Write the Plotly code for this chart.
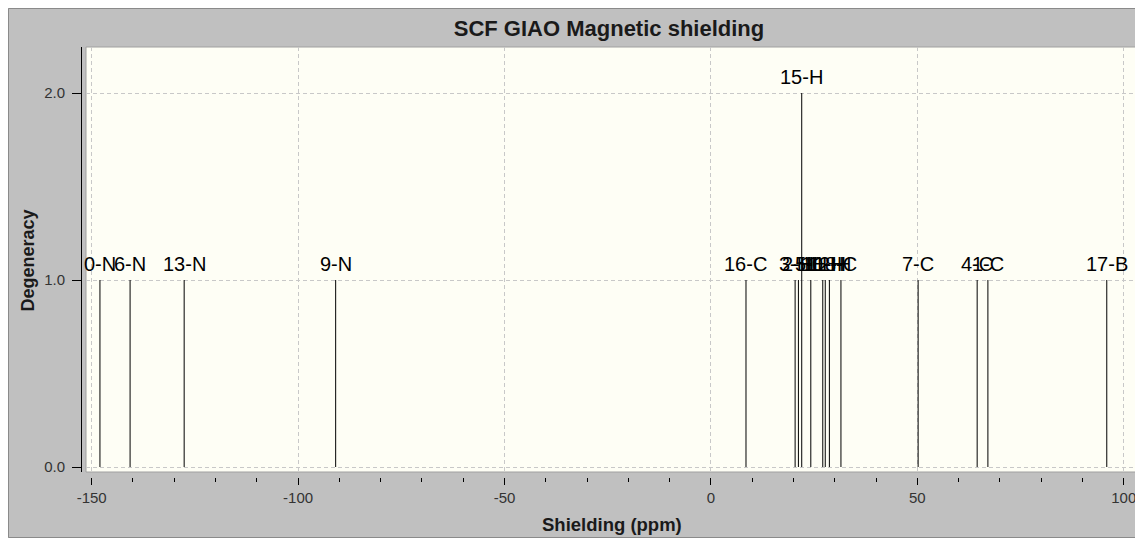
import plotly.graph_objects as go

# ---- data ----
labels = ["0-N", "6-N", "13-N", "9-N", "16-C", "3-H", "2-H", "15-H", "5-H",
          "10-H", "11-H", "12-H", "8-C", "7-C", "4-C", "1-C", "17-B"]
shielding = [-148.0, -140.7, -127.6, -90.9, 8.5, 20.4, 21.2, 22.0, 24.2,
             27.1, 27.7, 28.7, 31.5, 50.2, 64.5, 67.1, 95.9]
degeneracy = [1, 1, 1, 1, 1, 1, 1, 2, 1, 1, 1, 1, 1, 1, 1, 1, 1]

x_tick_vals = [-150, -100, -50, 0, 50, 100]
x_tick_text = ["-150", "-100", "-50", "0", "50", "100"]
y_tick_vals = [0, 1, 2]
y_tick_text = ["0.0", "1.0", "2.0"]

# ---- geometry (pixels, figure coordinates; page adds 8px body margin) ----
W, H = 1134, 530
L, R, T, B = 73, 5, 39, 61
pw = W - L - R
ph = H - T - B
plot_left_px = 78
plot_bottom_px = 464
xdom0 = (plot_left_px - L) / pw
ydom0 = (H - B - plot_bottom_px) / ph


def px_x(p):
    return (p - L) / pw


def px_y(p):
    return (H - B - p) / ph


FONT = "Liberation Sans, Arial, Helvetica, sans-serif"

xs, ys = [], []
for v, d in zip(shielding, degeneracy):
    xs += [v, v, None]
    ys += [0, d, None]

fig = go.Figure()
fig.add_trace(go.Scatter(x=xs, y=ys, mode="lines",
                         line=dict(color="black", width=1),
                         hoverinfo="skip", showlegend=False))

annotations = []
for lab, v, d in zip(labels, shielding, degeneracy):
    annotations.append(dict(x=v, y=d, xref="x", yref="y", text=lab,
                            showarrow=False, yanchor="middle", yshift=16,
                            font=dict(family=FONT, size=20, color="black")))

annotations.append(dict(x=(xdom0 + 1) / 2, y=px_y(516), xref="paper", yref="paper",
                        text="Shielding (ppm)", showarrow=False, yanchor="middle",
                        font=dict(family=FONT, size=18.5, color="#1a1a1a", weight="bold")))
annotations.append(dict(x=px_x(19.5), y=px_y(253), xref="paper", yref="paper",
                        text="Degeneracy", showarrow=False, textangle=-90,
                        xanchor="center", yanchor="middle",
                        font=dict(family=FONT, size=18, color="#1a1a1a", weight="bold")))

shapes = [
    dict(type="rect", xref="paper", yref="paper", layer="below",
         x0=xdom0, x1=1, y0=ydom0, y1=1,
         fillcolor="#fefef5", line=dict(color="#a0a0a0", width=1)),
    dict(type="rect", xref="paper", yref="paper", layer="above",
         x0=px_x(0.5), x1=px_x(W - 0.5), y0=px_y(H - 0.5), y1=px_y(0.5),
         fillcolor="rgba(0,0,0,0)", line=dict(color="#8a8a8a", width=1)),
]

fig.update_layout(
    width=W, height=H,
    margin=dict(l=L, r=R, t=T, b=B, pad=0),
    paper_bgcolor="#c0c0c0",
    plot_bgcolor="rgba(0,0,0,0)",
    showlegend=False,
    title=dict(text="SCF GIAO Magnetic shielding", x=0.5, xref="paper",
               xanchor="center", y=1 - 20 / H, yref="container", yanchor="middle",
               font=dict(family=FONT, size=22, color="#1a1a1a", weight="bold")),
    xaxis=dict(domain=[xdom0, 1], range=[-151.38, 103.22], anchor="free", position=0,
               showline=False, zeroline=False,
               showgrid=True, gridcolor="#c8c8c8", griddash="4px,3px", gridwidth=1,
               tickmode="array", tickvals=x_tick_vals, ticktext=x_tick_text,
               ticks="outside", ticklen=7, tickwidth=1, tickcolor="black",
               minor=dict(dtick=10, tick0=0, ticks="outside", ticklen=4,
                          tickwidth=1, tickcolor="black", showgrid=False),
               tickfont=dict(family=FONT, size=15, color="#333333"),
               fixedrange=True),
    yaxis=dict(domain=[ydom0, 1], range=[-0.0267, 2.246], anchor="free", position=0,
               showline=True, linecolor="black", linewidth=1, zeroline=False,
               showgrid=True, gridcolor="#c8c8c8", griddash="4px,3px", gridwidth=1,
               tickmode="array", tickvals=y_tick_vals, ticktext=y_tick_text,
               ticks="outside", ticklen=9, tickwidth=1, tickcolor="black",
               ticklabelstandoff=4,
               tickfont=dict(family=FONT, size=15, color="#333333"),
               fixedrange=True),
    annotations=annotations,
    shapes=shapes,
)

fig.write_html("out.html")
